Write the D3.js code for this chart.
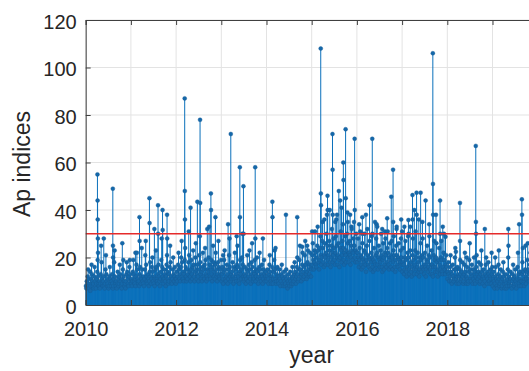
<!DOCTYPE html>
<html>
<head>
<meta charset="utf-8">
<script src="https://cdn.jsdelivr.net/npm/d3@7"></script>
<style>
  html, body { margin: 0; padding: 0; background: #fff; }
  svg { display: block; font-family: "Liberation Sans", Arial, sans-serif; }
</style>
</head>
<body>
<svg id="chart" width="529" height="371"></svg>
<script>
// Geomagnetic Ap index, roughly twice-weekly samples for each year
const ap2010 = [8,7,10,9,12,15,11,8,7,9,6,8,11,17,13,10,8,9,7,12,16,10,8,7,9,11,
  14,19,12,9,8,10,7,9,13,25,18,11,9,8,10,12,8,7,9,15,21,13,10,8,9,11,
  7,8,12,16,11,9,8,10,13,9,7,8,11,18,23,12,9,8,10,7,9,14,11,8,9,12,
  17,13,10,8,7,9,11,15,19,12,10,8,9,7,10,13,18,14,11,9,8,12,16,19,13,10];
const ap2011 = [9,11,8,10,14,19,13,10,9,11,8,12,17,22,15,11,9,10,8,13,16,12,9,11,24,15,
  10,9,12,8,11,15,21,27,17,12,10,9,13,11,8,10,14,18,12,9,11,16,20,14,10,9,
  12,8,11,15,23,16,11,10,9,13,17,12,10,8,11,14,19,28,16,12,10,9,11,15,
  13,10,8,12,17,21,14,11,9,10,13,16,25,18,12,10,9,11,15,20,13,10,12,16,11,9];
const ap2012 = [11,14,10,12,17,22,15,11,13,10,16,20,27,18,12,11,14,10,13,19,24,16,12,10,15,11,
  13,18,31,21,14,12,10,15,19,13,11,16,23,17,12,10,14,20,26,15,11,13,17,12,10,15,
  21,29,18,13,11,14,10,16,22,15,12,11,17,24,19,13,10,12,15,11,14,20,33,17,
  12,11,15,19,13,10,16,25,18,12,14,11,17,22,15,12,10,13,18,27,16,12,11,15,13,19];
const ap2013 = [10,13,16,11,9,14,19,23,15,11,10,12,17,13,9,11,15,21,28,16,12,10,13,11,14,18,
  12,9,11,16,22,15,11,10,13,17,25,16,12,10,9,14,19,13,11,15,20,30,17,12,10,11,
  13,16,12,9,11,15,21,14,10,12,17,23,15,11,9,13,18,26,16,12,10,11,14,19,
  13,10,12,15,20,14,11,9,12,16,22,15,11,10,13,17,12,9,11,15,19,13,10,12,14,11];
const ap2014 = [10,12,15,11,9,13,17,21,14,10,9,12,16,11,9,11,14,19,23,15,11,9,10,13,16,12,
  10,9,12,15,11,8,10,13,17,12,9,8,11,14,10,8,9,12,15,11,8,7,10,13,9,8,
  11,14,10,8,9,12,16,11,9,10,13,18,14,11,9,12,16,20,13,10,11,15,19,25,
  15,12,10,13,17,22,14,11,12,16,21,27,17,13,11,14,18,23,15,12,13,17,22,16,12,15];
const ap2015 = [17,21,26,19,15,18,23,31,22,17,16,20,25,33,23,18,15,19,24,29,21,17,20,27,35,24,
  18,16,21,26,20,17,22,30,38,25,19,17,21,27,23,18,16,20,25,32,22,18,21,28,24,19,
  17,22,29,36,25,20,17,21,26,19,16,20,24,31,23,18,21,27,34,24,19,17,22,29,
  21,18,23,30,39,26,20,18,22,27,21,17,20,25,32,23,19,22,28,35,25,20,18,23,30,22];
const ap2016 = [18,22,28,20,16,19,24,31,21,17,15,20,26,19,16,18,23,30,22,17,14,19,25,32,21,17,
  16,20,27,19,15,18,22,29,20,16,14,19,24,18,15,17,21,28,34,22,17,15,20,25,19,16,
  18,23,30,21,16,14,19,26,20,15,17,22,28,21,16,18,24,31,22,17,15,20,26,19,
  16,21,27,20,15,18,23,29,21,16,14,19,25,32,21,17,16,20,26,19,15,18,23,28,20,17];
const ap2017 = [14,18,24,17,13,15,20,27,19,14,12,16,22,29,20,15,13,17,23,18,14,12,16,21,28,19,
  15,13,17,23,31,20,15,13,16,22,18,14,12,15,20,26,19,14,16,21,28,20,15,13,17,22,
  16,12,15,19,25,18,14,16,21,29,20,15,13,17,23,17,13,12,16,21,27,19,14,16,
  20,26,18,14,12,15,19,24,17,13,15,20,27,19,14,13,16,22,30,19,15,13,17,21,16,14];
const ap2018 = [11,14,18,13,10,12,16,21,14,10,9,13,17,12,10,11,15,20,24,15,11,9,12,16,13,10,
  9,12,15,19,13,10,11,14,18,12,9,10,13,17,22,14,11,9,12,16,11,9,10,14,19,26,
  15,11,10,13,17,12,9,11,15,20,14,10,9,12,16,21,13,10,11,14,18,12,9,10,13,17,
  23,14,11,9,12,15,11,8,10,13,17,20,12,9,11,14,18,13,10,9,12,15,11,9,13,16];
const ap2019 = [8,11,14,10,7,9,12,16,11,8,7,10,13,17,11,8,9,12,15,10,7,8,11,14,18,12,
  9,7,10,13,9,7,8,11,15,20,12,9,8,10,14,11,8,7,10,13,17,11,8,9,12,15,
  10,7,9,11,16,22,13,9,8,11,14,10,8,10,13,18,24,14,10,8,11,15,12,9,
  11,14,19,26,15,11,10,13,17,22,14,10,12,16,21,28,15,11,13,17,14,10,9,12,15,11];
const samplesByYear = [ap2010, ap2011, ap2012, ap2013, ap2014, ap2015, ap2016, ap2017, ap2018, ap2019];
const firstYear = 2010;

// Storm days: [decimal year, Ap]
const stormPeaks = [
  [2010.10,14],[2010.26,55],[2010.263,44],[2010.266,36],[2010.27,28],[2010.273,22],[2010.40,28],
  [2010.60,49],[2010.603,25],[2010.606,20],[2010.81,26],
  [2011.10,22],[2011.19,37],[2011.193,27],[2011.41,45],[2011.413,34.5],[2011.52,32],
  [2011.60,42],[2011.603,30],[2011.70,40],[2011.703,31.6],[2011.80,38],[2011.803,28],
  [2012.19,87],[2012.193,48],[2012.196,36],[2012.32,41],[2012.47,43.5],[2012.53,78],[2012.533,43],
  [2012.69,32],[2012.77,47],[2012.773,40],[2012.87,37],
  [2013.04,21],[2013.15,34],[2013.21,72],[2013.34,29],[2013.41,58],[2013.413,37],
  [2013.49,50],[2013.493,30],[2013.75,58],[2013.753,28],[2013.92,28],
  [2014.13,43.5],[2014.133,37],[2014.20,24],[2014.43,38],[2014.68,37],[2014.79,24.5],[2014.90,25],
  [2015.01,31],[2015.20,108],[2015.203,47],[2015.206,42],[2015.28,36],[2015.35,46],[2015.353,40],[2015.40,40],
  [2015.46,72],[2015.463,57],[2015.466,38],[2015.52,35],[2015.56,38],[2015.60,48],[2015.63,44],[2015.66,41],
  [2015.70,60],[2015.703,52.6],[2015.75,74],[2015.753,45],[2015.80,35],[2015.85,38],[2015.88,33],
  [2015.95,70],[2015.953,40],
  [2016.05,34],[2016.12,37],[2016.123,30],[2016.20,38],[2016.28,42],[2016.34,70],[2016.343,30],[2016.40,35],
  [2016.45,33],[2016.56,32],[2016.62,31],[2016.67,36.5],[2016.76,45.6],[2016.80,57],[2016.803,35],
  [2016.88,33],[2016.98,36],
  [2017.00,31],[2017.05,33],[2017.14,35.8],[2017.143,30],[2017.18,33],[2017.23,46.3],[2017.233,36],
  [2017.27,40],[2017.32,47.3],[2017.323,38],[2017.37,36],[2017.41,47.3],[2017.45,35],[2017.52,44],
  [2017.60,34],[2017.68,106],[2017.683,51],[2017.686,38],[2017.75,38],[2017.84,44],[2017.843,30],
  [2017.90,33],[2017.96,28.7],
  [2018.19,22.4],[2018.28,43],[2018.283,27],[2018.43,20],[2018.63,67],[2018.633,35],[2018.636,30],
  [2018.83,32],[2018.98,22],
  [2019.06,20],[2019.14,23],[2019.35,32],[2019.353,25],[2019.59,34],[2019.65,44.5],[2019.653,38],[2019.73,25]
];

const threshold = 30;
const yTicks = [0, 20, 40, 60, 80, 100, 120];
const xTicks = [2010, 2011, 2012, 2013, 2014, 2015, 2016, 2017, 2018, 2019, 2020];
const xTickLabels = ["2010", "", "2012", "", "2014", "", "2016", "", "2018", "", ""];

// Combine the regular samples and storm days into one series
const series = [];
samplesByYear.forEach((vals, yi) => {
  vals.forEach((v, i) => series.push({ t: firstYear + yi + (i + 0.5) / vals.length, v }));
});
stormPeaks.forEach(([t, v]) => series.push({ t, v }));
series.sort((a, b) => a.t - b.t);

const svg = d3.select("#chart");
const x = d3.scaleLinear().domain([2010, 2020]).range([85.7, 537.7]);
const y = d3.scaleLinear().domain([0, 120]).range([305, 20]);

const textColor = "#262626";
const axisColor = "#404040";

// grid
const grid = svg.append("g");
grid.selectAll("line.gx").data(xTicks).join("line")
  .attr("x1", d => x(d)).attr("x2", d => x(d))
  .attr("y1", y(0)).attr("y2", y(120))
  .attr("stroke", "#e3e3e3").attr("stroke-width", 1);
grid.selectAll("line.gy").data(yTicks).join("line")
  .attr("x1", x(2010)).attr("x2", x(2020))
  .attr("y1", d => y(d)).attr("y2", d => y(d))
  .attr("stroke", "#e3e3e3").attr("stroke-width", 1);

// stems and markers
const plot = svg.append("g");
plot.selectAll("line.stem").data(series).join("line")
  .attr("class", "stem")
  .attr("x1", d => x(d.t)).attr("x2", d => x(d.t))
  .attr("y1", y(0)).attr("y2", d => y(d.v))
  .attr("stroke", "#0a70bb").attr("stroke-width", 1);
plot.selectAll("circle.mk").data(series).join("circle")
  .attr("class", "mk")
  .attr("cx", d => x(d.t)).attr("cy", d => y(d.v))
  .attr("r", 2)
  .attr("fill", "#1468aa").attr("stroke", "#165c94").attr("stroke-width", 0.4);

// threshold line
svg.append("line")
  .attr("x1", x(2010)).attr("x2", x(2020))
  .attr("y1", y(threshold)).attr("y2", y(threshold))
  .attr("stroke", "#e52b2b").attr("stroke-width", 1.3);

// axes (ticks pointing inward)
const yAxis = d3.axisLeft(y).tickValues(yTicks).tickSize(-5).tickPadding(9).tickFormat(d3.format("d"));
const gy = svg.append("g").attr("transform", `translate(${x(2010)},0)`).call(yAxis);
gy.selectAll("text").attr("font-size", 20).attr("fill", textColor).attr("dy", "0.42em")
  .attr("font-family", "'Liberation Sans', Arial, sans-serif");

const xAxis = d3.axisBottom(x).tickValues(xTicks).tickSize(-5).tickPadding(17)
  .tickFormat((d, i) => xTickLabels[i]);
const gx = svg.append("g").attr("transform", `translate(0,${y(0)})`).call(xAxis);
gx.selectAll("text").attr("font-size", 20).attr("fill", textColor)
  .attr("font-family", "'Liberation Sans', Arial, sans-serif");

const xTop = d3.axisTop(x).tickValues(xTicks).tickSize(-5).tickFormat("");
svg.append("g").attr("transform", `translate(0,${y(120)})`).call(xTop);

svg.selectAll(".tick line").attr("stroke", axisColor);
svg.selectAll(".domain").attr("stroke", axisColor);

// axis titles
svg.append("text")
  .attr("transform", `translate(30,164) rotate(-90)`)
  .attr("text-anchor", "middle")
  .attr("font-size", 23).attr("fill", textColor)
  .text("Ap indices");
svg.append("text")
  .attr("x", (x(2010) + x(2020)) / 2).attr("y", 363)
  .attr("text-anchor", "middle")
  .attr("font-size", 23).attr("fill", textColor)
  .text("year");
</script>
</body>
</html>
